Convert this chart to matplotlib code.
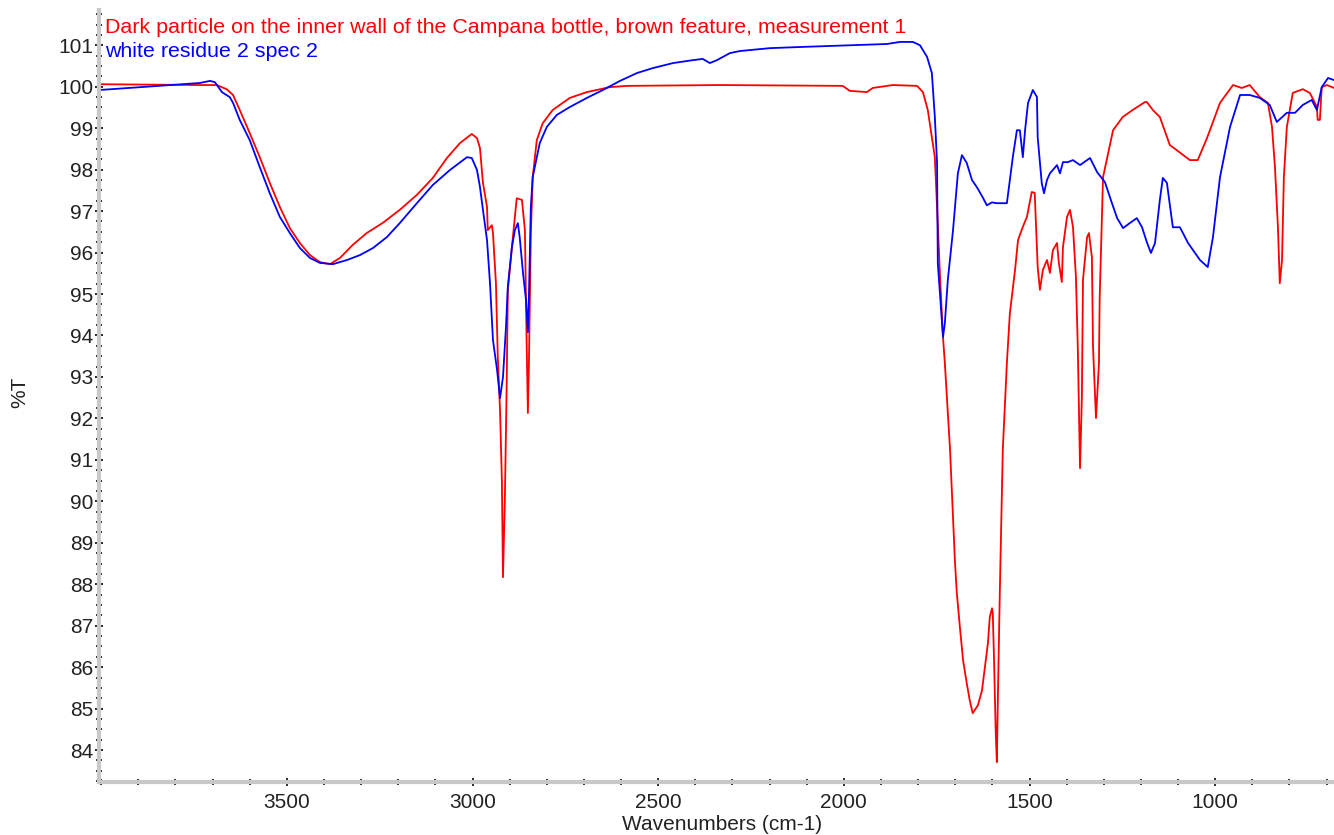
import matplotlib
matplotlib.use("Agg")
import matplotlib.pyplot as plt
from matplotlib.ticker import MultipleLocator

plt.rcParams['font.family'] = ['Liberation Sans', 'DejaVu Sans']

# Red: Dark particle ... measurement 1
red_wn = [4005, 3734, 3689, 3662, 3645, 3627, 3600, 3573, 3546, 3519, 3492, 3465, 3438, 3411, 3384,
          3357, 3322, 3285, 3241, 3196, 3150, 3107, 3069, 3034, 3002, 2988, 2980, 2972, 2961, 2959,
          2948, 2945, 2937, 2932, 2926, 2921, 2918, 2913, 2908, 2905, 2894, 2881, 2867, 2859, 2854,
          2851, 2848, 2843, 2838, 2827, 2811, 2784, 2738, 2692, 2630, 2584, 2334, 2003, 1984, 1938,
          1922, 1868, 1803, 1787, 1774, 1755, 1749, 1741, 1733, 1728, 1720, 1714, 1701, 1696, 1688,
          1679, 1669, 1661, 1653, 1639, 1628, 1620, 1612, 1607, 1601, 1599, 1596, 1591, 1588, 1585,
          1580, 1572, 1561, 1553, 1539, 1531, 1518, 1507, 1494, 1486, 1478, 1472, 1464, 1453, 1445,
          1437, 1426, 1421, 1413, 1410, 1399, 1391, 1383, 1375, 1370, 1364, 1359, 1356, 1345, 1340,
          1332, 1329, 1321, 1313, 1311, 1302, 1275, 1249, 1222, 1189, 1184, 1168, 1149, 1122, 1114,
          1068, 1047, 1022, 987, 952, 928, 907, 880, 858, 847, 839, 831, 826, 820, 815,
          807, 791, 764, 745, 726, 724, 718, 713, 699, 680]
red_t = [100.06, 100.04, 100.04, 99.94, 99.80, 99.44, 98.88, 98.30, 97.68, 97.10, 96.59, 96.23, 95.94, 95.77, 95.72,
         95.87, 96.19, 96.47, 96.72, 97.03, 97.39, 97.80, 98.28, 98.64, 98.86, 98.76, 98.52, 97.68, 97.10, 96.54,
         96.66, 96.47, 95.26, 93.48, 92.20, 90.51, 88.17, 90.03, 92.85, 95.09, 96.13, 97.31, 97.27, 96.54, 93.65,
         92.13, 93.41, 96.47, 97.82, 98.71, 99.12, 99.44, 99.73, 99.87, 99.99, 100.02, 100.04, 100.02, 99.90, 99.87,
         99.97, 100.04, 100.02, 99.87, 99.44, 98.30, 97.09, 95.41, 93.96, 93.33, 92.13, 91.24, 88.58, 87.81, 87.01,
         86.17, 85.61, 85.20, 84.89, 85.08, 85.44, 86.00, 86.58, 87.21, 87.42, 87.30, 86.34, 84.43, 83.71, 85.37,
         87.81, 91.24, 93.33, 94.53, 95.58, 96.30, 96.62, 96.86, 97.46, 97.44, 95.65, 95.10, 95.58, 95.82, 95.51,
         96.06, 96.23, 95.75, 95.29, 96.13, 96.86, 97.03, 96.62, 95.41, 93.72, 90.80, 92.51, 95.34, 96.37, 96.47,
         95.89, 93.72, 92.01, 93.33, 94.93, 97.82, 98.95, 99.27, 99.44, 99.63, 99.63, 99.44, 99.27, 98.59, 98.54,
         98.23, 98.23, 98.76, 99.61, 100.04, 99.97, 100.04, 99.75, 99.61, 99.03, 98.06, 96.61, 95.26, 95.82, 97.82,
         99.03, 99.85, 99.94, 99.85, 99.51, 99.20, 99.20, 99.99, 100.04, 99.97]

# Blue: white residue 2 spec 2
blue_wn = [4005, 3734, 3707, 3694, 3675, 3654, 3645, 3627, 3600, 3573, 3546, 3519, 3492, 3465, 3438,
           3411, 3376, 3338, 3303, 3268, 3231, 3196, 3150, 3107, 3061, 3015, 3002, 2988, 2980, 2972,
           2961, 2953, 2945, 2934, 2926, 2918, 2910, 2905, 2894, 2886, 2878, 2873, 2864, 2856, 2851,
           2848, 2843, 2838, 2819, 2800, 2773, 2738, 2692, 2649, 2603, 2557, 2514, 2460, 2407, 2380,
           2361, 2342, 2307, 2280, 2199, 2110, 1976, 1884, 1849, 1814, 1795, 1776, 1763, 1755, 1749,
           1747, 1736, 1733, 1728, 1720, 1706, 1693, 1682, 1669, 1655, 1642, 1626, 1615, 1601, 1588,
           1561, 1553, 1545, 1534, 1526, 1518, 1512, 1504, 1491, 1480, 1478, 1467, 1461, 1453, 1445,
           1426, 1418, 1410, 1397, 1383, 1364, 1337, 1318, 1297, 1278, 1264, 1248, 1230, 1211, 1197,
           1184, 1173, 1162, 1149, 1141, 1130, 1114, 1095, 1073, 1041, 1020, 1006, 987, 960, 933,
           907, 880, 853, 834, 807, 785, 764, 740, 726, 713, 696, 680]
blue_t = [99.92, 100.09, 100.14, 100.11, 99.87, 99.75, 99.61, 99.20, 98.71, 98.06, 97.43, 96.86, 96.47, 96.11, 95.87,
          95.75, 95.72, 95.82, 95.94, 96.11, 96.37, 96.71, 97.19, 97.63, 97.99, 98.30, 98.28, 97.99, 97.58, 97.03,
          96.30, 95.26, 93.89, 93.17, 92.49, 93.00, 94.20, 95.17, 96.13, 96.54, 96.71, 96.37, 95.50, 94.85, 94.08,
          95.02, 97.09, 97.82, 98.64, 99.03, 99.32, 99.51, 99.73, 99.92, 100.14, 100.33, 100.45, 100.57, 100.64, 100.67,
          100.57, 100.64, 100.81, 100.86, 100.93, 100.96, 101.00, 101.03, 101.08, 101.08, 101.00, 100.72, 100.33, 99.27, 98.16,
          95.75, 94.37, 93.96, 94.30, 95.34, 96.54, 97.91, 98.35, 98.16, 97.75, 97.58, 97.33, 97.14, 97.21, 97.19,
          97.19, 97.75, 98.30, 98.95, 98.95, 98.30, 98.95, 99.61, 99.92, 99.75, 98.78, 97.67, 97.43, 97.75, 97.91,
          98.11, 97.91, 98.18, 98.18, 98.23, 98.11, 98.28, 97.94, 97.70, 97.19, 96.83, 96.59, 96.71, 96.83, 96.61,
          96.25, 95.99, 96.23, 97.27, 97.80, 97.68, 96.61, 96.61, 96.23, 95.82, 95.65, 96.37, 97.82, 99.03, 99.80,
          99.80, 99.73, 99.56, 99.15, 99.37, 99.37, 99.56, 99.68, 99.44, 99.99, 100.21, 100.16]

red_label = "Dark particle on the inner wall of the Campana bottle, brown feature, measurement 1"
blue_label = "white residue 2 spec 2"
x_ticks = [3500, 3000, 2500, 2000, 1500, 1000]
y_ticks = list(range(84, 102))

W, H = 1334, 835
fig = plt.figure(figsize=(W / 100, H / 100), dpi=100)
ax = fig.add_axes([99 / W, 1 - 782 / H, 1 - 99 / W, (782 - 10) / H])

ax.plot(red_wn, red_t, color='#ff0000', lw=1.3)
ax.plot(blue_wn, blue_t, color='#0000ff', lw=1.3)

ax.set_xlim(4006, 680)
ax.set_ylim(83.23, 101.85)
ax.set_xticks(x_ticks)
ax.set_yticks(y_ticks)
ax.xaxis.set_minor_locator(MultipleLocator(100))
ax.yaxis.set_minor_locator(MultipleLocator(0.25))

for s in ['top', 'right']:
    ax.spines[s].set_visible(False)
for s in ['left', 'bottom']:
    ax.spines[s].set_color('#c8c8c8')
    ax.spines[s].set_linewidth(3)

ax.tick_params(axis='both', which='major', direction='inout', length=6, width=1.2,
               color='black', labelsize=15, labelcolor='#222222', pad=1)
ax.tick_params(axis='x', which='major', pad=5)
ax.tick_params(axis='both', which='minor', direction='inout', length=4, width=1.2, color='black')

ax.set_xlabel("Wavenumbers (cm-1)", fontsize=15, color='#222222')
ax.xaxis.set_label_coords((722 - 99) / (W - 99), -(825 - 782) / (782 - 10), transform=ax.transAxes)
ax.xaxis.label.set_va('center')
ax.set_ylabel("%T", fontsize=15, color='#222222')
ax.yaxis.set_label_coords(-(99 - 20) / (W - 99), (782 - 392) / (782 - 10), transform=ax.transAxes)
ax.yaxis.label.set_va('center')

fig.text(105 / W, 1 - 33 / H, red_label, color='#ff0000', fontsize=15.4, va='baseline', ha='left')
fig.text(105 / W, 1 - 57 / H, blue_label, color='#0000ff', fontsize=15.4, va='baseline', ha='left')

fig.savefig("out.png", dpi=100)
